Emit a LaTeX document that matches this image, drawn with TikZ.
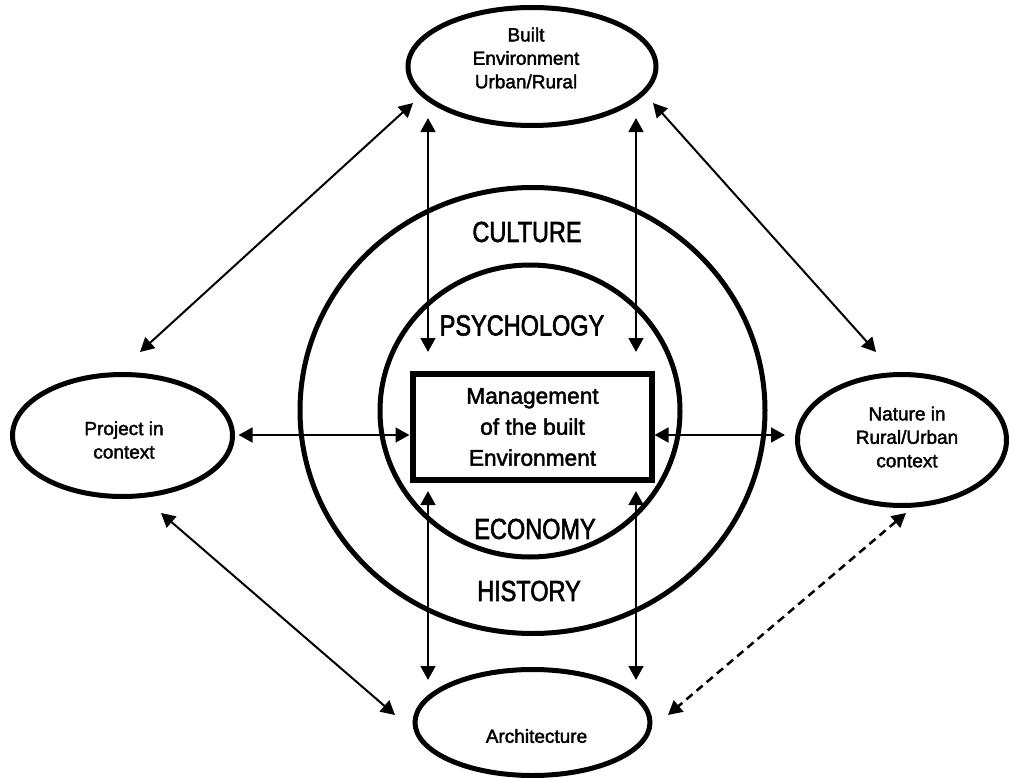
\documentclass[tikz,border=0pt]{standalone}
\usepackage{fontspec}
\setmainfont{Liberation Sans}
\newfontfamily\narrowfont[FakeStretch=0.81,FakeBold=2]{Liberation Sans}
\newfontfamily\ovalfont[FakeBold=2]{Liberation Sans}
\usetikzlibrary{shapes.geometric,arrows.meta}

\begin{document}
\begin{tikzpicture}[x=0.75pt,y=-0.75pt,
  oval/.style={draw, line width=3.75pt, ellipse, inner sep=0pt},
  ring/.style={draw, line width=3.75pt, ellipse, inner sep=0pt},
  mgmtbox/.style={draw, line width=4.5pt, rectangle, inner sep=0pt, align=center,
    font=\ovalfont\fontsize{17pt}{23.25pt}\selectfont},
  ovaltext/.style={align=center, inner sep=0pt, font=\ovalfont\fontsize{14.25pt}{17.6pt}\selectfont},
  ringlabel/.style={inner sep=0pt, font=\narrowfont\fontsize{21.75pt}{26pt}\selectfont},
  tip/.tip={Triangle[length=10.5pt,width=11pt]},
  link/.style={line width=1.5pt, tip-tip},
  axis/.style={line width=2pt, tip-tip},
  maybe/.style={line width=1.9pt, tip-tip, dash pattern=on 6pt off 4pt}
]
\path[use as bounding box] (0,0) rectangle (1011,778);

% concentric rings around the central box
\node[ring, minimum width=348.75pt, minimum height=334.5pt] (outer) at (532.5,410.5) {};
\node[ring, minimum width=225pt, minimum height=219pt] (inner) at (530,411) {};

\node[ringlabel] (culture) at (527,232) {CULTURE};
\node[ringlabel] (psych) at (522,325.5) {PSYCHOLOGY};
\node[ringlabel] (econ) at (535,529) {ECONOMY};
\node[ringlabel] (hist) at (529,591) {HISTORY};

% central box
\node[mgmtbox, minimum width=179.25pt, minimum height=79.5pt] (mgmt) at (532.5,427)
  {Management\\of the built\\Environment};

% surrounding ovals
\node[oval, minimum width=186pt, minimum height=88.5pt] (built) at (532,66.5) {};
\node[ovaltext] (builttext) at (526,58) {Built\\Environment\\Urban/Rural};

\node[oval, minimum width=165pt, minimum height=91.5pt] (project) at (122.5,435.5) {};
\node[ovaltext] (projecttext) at (124,440) {Project in\\context};

\node[oval, minimum width=156.75pt, minimum height=98.25pt] (nature) at (902,440) {};
\node[ovaltext] (naturetext) at (907,437) {Nature in\\Rural/Urban\\context};

\node[oval, minimum width=176.25pt, minimum height=79.5pt] (arch) at (532.5,722.5) {};
\node[ovaltext] (archtext) at (536.5,736) {Architecture};

% arrow end points
\coordinate (bTL) at (413,103);  \coordinate (pT) at (140,352);
\coordinate (bTR) at (653,103);  \coordinate (nT) at (876,352);
\coordinate (pB) at (161,513);   \coordinate (aL) at (395,715);
\coordinate (nB) at (906,513);   \coordinate (aR) at (668,715);
\coordinate (bL) at (428,118);   \coordinate (mTL) at (428,352);
\coordinate (bR) at (636,118);   \coordinate (mTR) at (636,352);
\coordinate (mBL) at (428,491);  \coordinate (aTL) at (428,680);
\coordinate (mBR) at (636,491);  \coordinate (aTR) at (636,680);
\coordinate (pE) at (238.5,435); \coordinate (mW) at (409.5,435);
\coordinate (mE) at (654.5,435); \coordinate (nW) at (785,435);

% connectors
\draw[link] (bTL) -- (pT);
\draw[link] (bTR) -- (nT);
\draw[link] (pB) -- (aL);
\draw[maybe] (nB) -- (aR);

\draw[axis] (bL) -- (mTL);
\draw[axis] (bR) -- (mTR);
\draw[axis] (mBL) -- (aTL);
\draw[axis] (mBR) -- (aTR);
\draw[axis] (pE) -- (mW);
\draw[axis] (mE) -- (nW);
\end{tikzpicture}
\end{document}
